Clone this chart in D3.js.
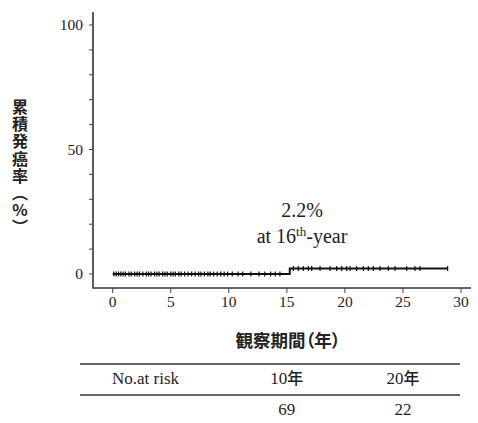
<!DOCTYPE html>
<html>
<head>
<meta charset="utf-8">
<script src="https://cdn.jsdelivr.net/npm/d3@7"></script>
<style>
  body { margin: 0; background: #fff; }
  #chart { position: relative; width: 478px; height: 423px; }
  .ytitle {
    position: absolute;
    left: 10px; top: 99px;
    width: 20px;
    writing-mode: vertical-rl;
    text-orientation: upright;
    font-family: "Noto Sans CJK JP", sans-serif;
    font-weight: 700;
    font-size: 16px;
    line-height: 20px;
    letter-spacing: 1.2px;
    color: #222;
  }
</style>
</head>
<body>
<div id="chart"></div>
<script>
// step curve: time (years) and cumulative incidence (%)
const stepTimes = [0, 15.25, 28.85]
const stepValues = [0, 2.2, 2.2]

// censor marks (years)
const censorTimes = [0.1, 0.3, 0.5, 0.7, 0.9, 1.1, 1.4, 1.6, 1.9, 2.1, 2.3, 2.6, 2.9, 3.1, 3.3, 3.6,
  3.8, 4.0, 4.3, 4.5, 4.7, 5.0, 5.2, 5.4, 5.7, 5.9, 6.2, 6.5, 6.8, 7.1, 7.4, 7.6, 7.9, 8.2, 8.4,
  8.7, 9.0, 9.3, 9.6, 9.9, 10.3, 10.8, 11.2, 11.9, 12.6, 13.1, 13.6, 14.0, 14.4,
  15.56, 15.99, 16.42, 16.85, 17.14, 17.86, 18.72, 19.29, 19.72, 20.15, 20.44, 21.01, 21.59,
  22.02, 22.45, 23.02, 23.74, 24.32, 25.32, 26.04, 26.47, 28.85]

const xTicks = [0, 5, 10, 15, 20, 25, 30]
const yTicks = [0, 10, 20, 30, 40, 50, 60, 70, 80, 90, 100]
const yLabels = [0, 50, 100]

const yTitle = "累積発癌率（%）"
const xTitle = "観察期間（年）"

// number at risk table
const riskHeader = ["10年", "20年"]
const riskValues = [69, 22]

const W = 478, H = 423
const SERIF = '"Liberation Serif", "Times New Roman", serif'
const CJK = '"Noto Sans CJK JP", "Noto Sans CJK SC", sans-serif'

const svg = d3.select("#chart").append("svg")
    .attr("width", W)
    .attr("height", H)

const x = d3.scaleLinear().domain([0, 30]).range([112.7, 461])
const y = d3.scaleLinear().domain([0, 100]).range([274, 25])

const axisX = 93, axisY = 288

function serifText(sel, size) {
    return sel.attr("font-family", SERIF).attr("font-size", size).attr("fill", "#1e1e1e")
}

// axes lines
svg.append("line")
    .attr("x1", axisX).attr("x2", axisX)
    .attr("y1", 12).attr("y2", axisY + 0.5)
    .style("stroke", "#333").style("stroke-width", 1.6)
svg.append("line")
    .attr("x1", axisX).attr("x2", 471)
    .attr("y1", axisY).attr("y2", axisY)
    .style("stroke", "#333").style("stroke-width", 1.6)

// y ticks
svg.selectAll(".yt").data(yTicks).enter().append("line")
    .attr("x1", axisX - 4).attr("x2", axisX)
    .attr("y1", d => y(d)).attr("y2", d => y(d))
    .style("stroke", "#444").style("stroke-width", 1)
serifText(svg.selectAll(".yl").data(yLabels).enter().append("text"), 15.5)
    .attr("x", axisX - 10)
    .attr("y", d => y(d))
    .attr("dy", "0.35em")
    .attr("text-anchor", "end")
    .text(d => d)

// x ticks
svg.selectAll(".xt").data(xTicks).enter().append("line")
    .attr("x1", d => x(d)).attr("x2", d => x(d))
    .attr("y1", axisY).attr("y2", axisY + 5)
    .style("stroke", "#444").style("stroke-width", 1)
serifText(svg.selectAll(".xl").data(xTicks).enter().append("text"), 15.5)
    .attr("x", d => x(d))
    .attr("y", axisY + 19)
    .attr("text-anchor", "middle")
    .text(d => d)

// x title
svg.append("text")
    .attr("x", 288).attr("y", 347)
    .attr("text-anchor", "middle")
    .attr("font-family", CJK).attr("font-weight", 700)
    .attr("font-size", 17.5).attr("fill", "#222")
    .style("font-feature-settings", '"palt"')
    .text(xTitle)

// y title, set vertically (html block over the svg)
d3.select("#chart").append("div")
    .attr("class", "ytitle")
    .text(yTitle)

// step line
const stepLine = d3.line()
    .x(d => x(d.t))
    .y(d => y(d.v))
    .curve(d3.curveStepAfter)
svg.append("path")
    .attr("d", stepLine(stepTimes.map((t, i) => ({ t: t, v: stepValues[i] }))))
    .style("fill", "none")
    .style("stroke", "#111")
    .style("stroke-width", 2)

// censor marks
function valueAt(t) {
    let v = stepValues[0]
    stepTimes.forEach((s, i) => { if (t >= s) v = stepValues[i] })
    return v
}
svg.selectAll(".cens").data(censorTimes).enter().append("line")
    .attr("x1", d => x(d)).attr("x2", d => x(d))
    .attr("y1", d => y(valueAt(d)) - 2.5)
    .attr("y2", d => y(valueAt(d)) + 2.5)
    .style("stroke", "#111")
    .style("stroke-width", 1.2)

// annotation
serifText(svg.append("text"), 20)
    .attr("x", 302).attr("y", 217)
    .attr("text-anchor", "middle")
    .text("2.2%")
const ann = serifText(svg.append("text"), 20)
    .attr("x", 302).attr("y", 243)
    .attr("text-anchor", "middle")
ann.append("tspan").text("at 16")
ann.append("tspan").attr("dy", -7).attr("font-size", 13).text("th")
ann.append("tspan").attr("dy", 7).text("-year")

// risk table
const colX = [x(15), x(25)]
svg.append("line").attr("x1", 80).attr("x2", 460).attr("y1", 364).attr("y2", 364)
    .style("stroke", "#333").style("stroke-width", 1.4)
svg.append("line").attr("x1", 80).attr("x2", 460).attr("y1", 395).attr("y2", 395)
    .style("stroke", "#333").style("stroke-width", 1.4)
serifText(svg.append("text"), 17)
    .attr("x", 112).attr("y", 384)
    .text("No.at risk")
const hdr = serifText(svg.selectAll(".rh").data(riskHeader).enter().append("text"), 17)
    .attr("x", (d, i) => colX[i]).attr("y", 384)
    .attr("text-anchor", "middle")
hdr.append("tspan").text(d => d.slice(0, -1))
hdr.append("tspan").attr("font-family", CJK).attr("font-weight", 500).attr("font-size", 16)
    .text(d => d.slice(-1))
serifText(svg.selectAll(".rv").data(riskValues).enter().append("text"), 17)
    .attr("x", (d, i) => colX[i]).attr("y", 415)
    .attr("text-anchor", "middle")
    .text(d => d)
</script>
</body>
</html>
